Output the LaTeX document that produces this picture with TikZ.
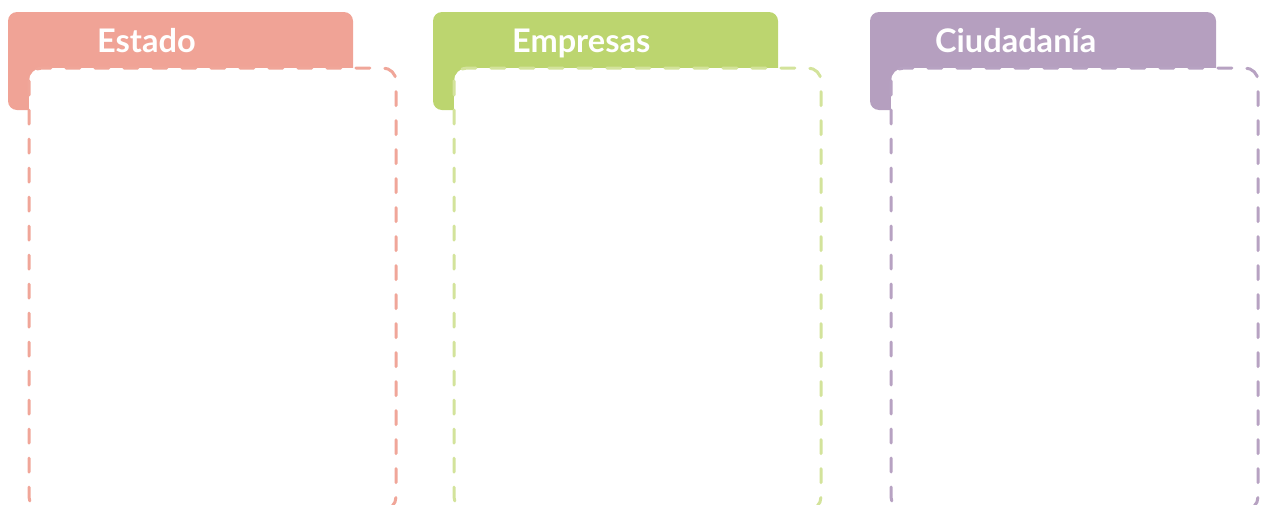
\documentclass[tikz,border=0pt]{standalone}
\usepackage{fontspec}
\setmainfont{Lato}
\begin{document}
\begin{tikzpicture}[x=1pt,y=-1pt,
  tabbox/.style={rounded corners=9pt, draw=none},
  dashbox/.style={rounded corners=13pt, fill=white, line width=3pt, dash pattern=on 14pt off 15pt, line cap=round},
  tabtext/.style={anchor=base west, text=white, font=\fontsize{32.5}{38}\selectfont\bfseries, inner sep=0pt}]
\useasboundingbox (0,0) rectangle (1263,504);
\definecolor{estC}{HTML}{F0A396}
\definecolor{estD}{HTML}{F0A699}
\definecolor{empC}{HTML}{BCD56F}
\definecolor{empD}{HTML}{D3E39B}
\definecolor{ciuC}{HTML}{B59FBF}
\definecolor{ciuD}{HTML}{B7A2C2}
% Estado
\fill[estC, tabbox] (8,12) rectangle (353,110);
\draw[estD, dashbox] (29,68) rectangle (396,510);
\node[tabtext] (estado) at (97,52) {Estado};
% Empresas
\fill[empC, tabbox] (433,12) rectangle (778,110);
\draw[empD, dashbox] (454,68) rectangle (821,510);
\node[tabtext] (empresas) at (512,52) {Empresas};
% Ciudadania
\fill[ciuC, tabbox] (870,12) rectangle (1216,110);
\draw[ciuD, dashbox] (891,68) rectangle (1258,510);
\node[tabtext] (ciudadania) at (935,52) {Ciudadanía};
\end{tikzpicture}
\end{document}
